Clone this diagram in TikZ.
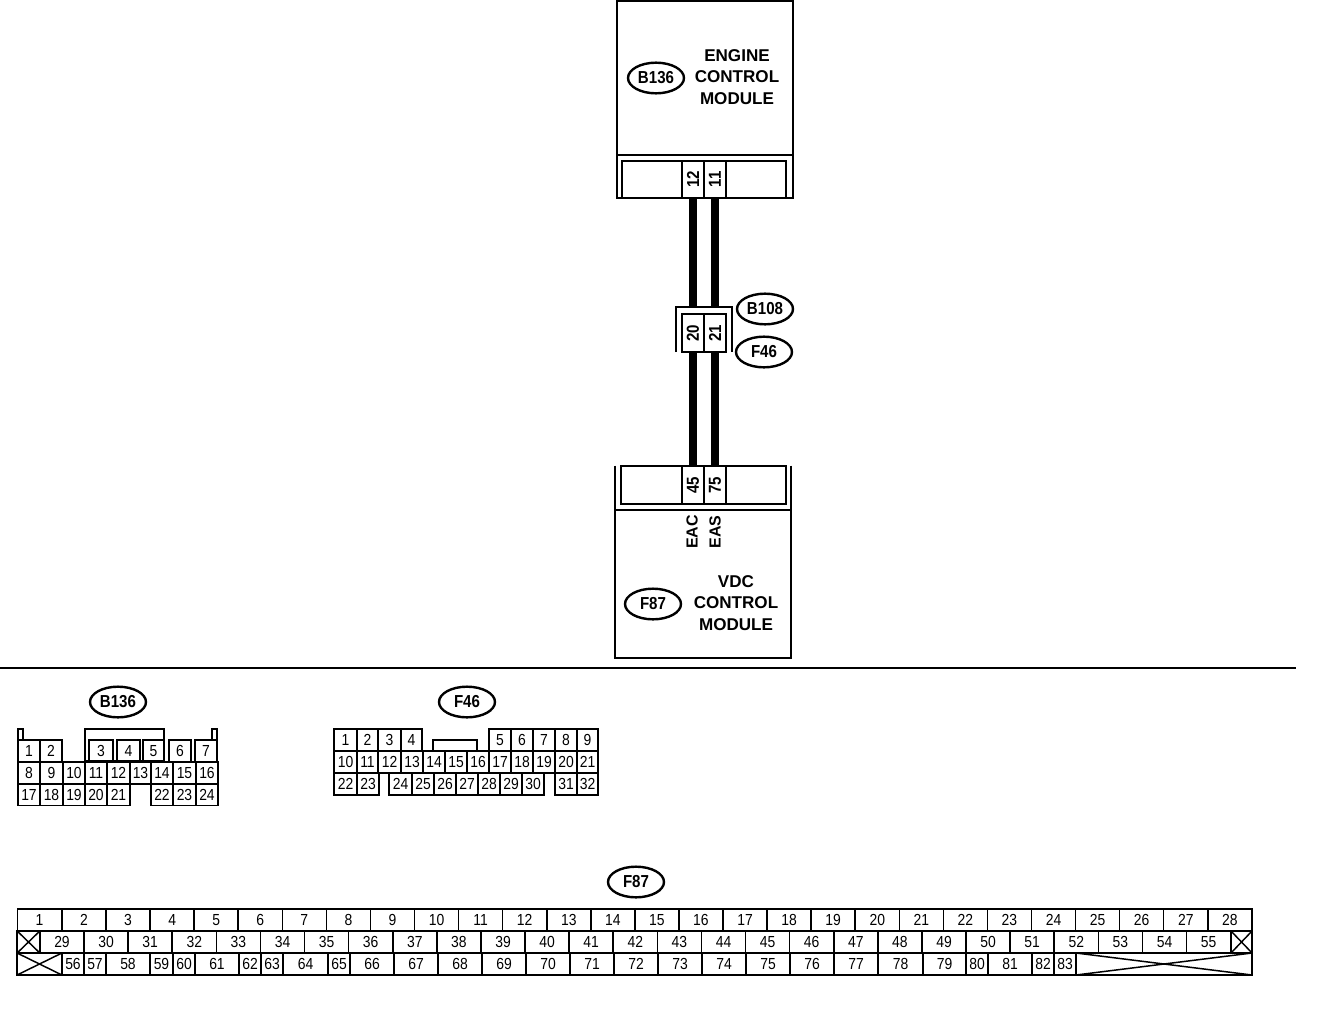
\documentclass[tikz,border=0pt]{standalone}
\usepackage{fontspec}
\setmainfont{Liberation Sans}
\newfontfamily\narrowfont[FakeStretch=0.87]{Liberation Sans}
\usetikzlibrary{positioning}
\usetikzlibrary{shapes.geometric}
\tikzset{
  hbox/.style={draw,line width=1.8pt,inner sep=0pt,outer sep=0pt,fill=white},
  pinv/.style={draw,line width=1.5pt,inner sep=0pt,outer sep=0pt,fill=white,minimum width=16.5pt,font=\narrowfont\fontsize{13}{14}\selectfont\bfseries},
  wire/.style={line width=6.5pt},
  tagoval/.style={draw,ellipse,line width=1.8pt,minimum width=42pt,minimum height=23pt,inner sep=0pt,font=\narrowfont\fontsize{13}{14}\selectfont\bfseries},
  modtext/.style={align=center,inner sep=0pt,font=\fontsize{12.8}{16}\selectfont\bfseries},
  cell/.style={draw,line width=1.1pt,inner sep=0pt,outer sep=0pt,minimum height=16.5pt,font=\narrowfont\fontsize{12}{13}\selectfont},
  bigcell/.style={cell,minimum width=33pt},
}
\begin{document}
\begin{tikzpicture}[x=0.75pt,y=-0.75pt]
    \useasboundingbox (0,0) rectangle (1328,1018);
    % engine control module
    \node [hbox,minimum width=132pt,minimum height=115.5pt] (ecm) at (705,78) {};
    \node [hbox,minimum width=132pt,minimum height=32pt] (ecmplug) at (705,176.5) {};
    \node [hbox,line width=1.5pt,minimum width=123.5pt,minimum height=27.5pt] (ecmin) at (704,179.5) {};
    \node [tagoval] (ecmtag) at (656,78) {B136};
    \node [modtext] (ecmtext) at (737,77) {ENGINE\\CONTROL\\MODULE};
    \node [pinv,minimum height=27.5pt] (p12) at (693,179.5) {\rotatebox{90}{12}};
    \node [pinv,minimum height=27.5pt,right=0pt of p12] (p11) {\rotatebox{90}{11}};
    % joint connector
    \node [inner sep=0pt,minimum width=42pt,minimum height=33.5pt] (joint) at (704,329.5) {};
    \draw [line width=1.8pt] (joint.south west) -- (joint.north west) -- (joint.north east) -- (joint.south east);
    \node [pinv,minimum height=28.5pt] (p20) at (693,333) {\rotatebox{90}{20}};
    \node [pinv,minimum height=28.5pt,right=0pt of p20] (p21) {\rotatebox{90}{21}};
    \node [tagoval] (jta) at (765,309) {B108};
    \node [tagoval] (jtb) at (764,352) {F46};
    % vdc control module
    \node [hbox,minimum width=132pt,minimum height=111pt] (vdc) at (703,584) {};
    \node [inner sep=0pt,minimum width=132pt,minimum height=33pt] (vdcplug) at (703,488) {};
    \draw [line width=1.8pt] (vdcplug.north west) -- (vdcplug.south west);
    \draw [line width=1.8pt] (vdcplug.north east) -- (vdcplug.south east);
    \node [hbox,line width=1.5pt,minimum width=123.5pt,minimum height=28.5pt] (vdcin) at (703.5,485) {};
    \node [pinv,minimum height=28.5pt] (p45) at (693,485) {\rotatebox{90}{45}};
    \node [pinv,minimum height=28.5pt,right=0pt of p45] (p75) {\rotatebox{90}{75}};
    \node [modtext,rotate=90,font=\fontsize{12}{13}\selectfont\bfseries] (eac) at (692,532) {EAC};
    \node [modtext,rotate=90,font=\fontsize{12}{13}\selectfont\bfseries] (eas) at (715,532) {EAS};
    \node [tagoval] (vdctag) at (653,604) {F87};
    \node [modtext] (vdctext) at (736,603) {VDC\\CONTROL\\MODULE};
    % wires
    \draw [wire,shorten >=5.2pt] (p12.south) -- (p20.north);
    \draw [wire,shorten >=5.2pt] (p11.south) -- (p21.north);
    \draw [wire] (p20.south) -- (p45.north);
    \draw [wire] (p21.south) -- (p75.north);
    % rule
    \coordinate (rulea) at (0,668);
    \coordinate (ruleb) at (1296,668);
    \draw [line width=1.7pt] (rulea) -- (ruleb);
    % connector B136
    \node [tagoval] (bhead) at (118,702) {B136};
    \node [cell,minimum width=59.2pt,minimum height=24pt] (bcover) at (124.5,745) {};
    \node [cell,minimum width=3.8pt,minimum height=8.5pt] (btl) at (20.5,734.5) {};
    \node [cell,minimum width=3.8pt,minimum height=8.5pt] (btr) at (214.5,734.5) {};
    \foreach \n/\l/\r in {1/18/40,2/40/62,3/89/113,4/117/140,5/143/164,6/169/191,7/195/217}
        \node [cell,minimum width={(\r-\l)*0.75pt}] (ba\n) at ({(\l+\r)/2},751) {\n};
    \foreach \n/\l/\r in {8/18/40,9/40/63,10/63/85,11/85/107,12/107/130,13/130/151,14/151/173,15/173/196,16/196/218}
        \node [cell,minimum width={(\r-\l)*0.75pt}] (ba\n) at ({(\l+\r)/2},773) {\n};
    \foreach \n/\l/\r in {17/18/40,18/40/63,19/63/85,20/85/107,21/107/130,22/151/173,23/173/196,24/196/218}
        \node [cell,minimum width={(\r-\l)*0.75pt}] (ba\n) at ({(\l+\r)/2},794.5) {\n};
    % connector F46
    \node [tagoval] (fhead) at (467,702) {F46};
    \node [cell,minimum width=33pt,minimum height=8.5pt] (fnotch) at (455,745.5) {};
    \foreach \n/\l/\r in {1/334/357,2/357/378,3/378/401,4/401/422,5/489/511,6/511/533,7/533/555,8/555/577,9/577/598}
        \node [cell,minimum width={(\r-\l)*0.75pt}] (fa\n) at ({(\l+\r)/2},740) {\n};
    \foreach \n/\l/\r in {10/334/357,11/357/378,12/378/401,13/401/423,14/423/445,15/445/467,16/467/489,17/489/511,18/511/533,19/533/555,20/555/577,21/577/598}
        \node [cell,minimum width={(\r-\l)*0.75pt}] (fa\n) at ({(\l+\r)/2},762) {\n};
    \foreach \n/\l/\r in {22/334/357,23/357/379,24/389/412,25/412/434,26/434/456,27/456/478,28/478/500,29/500/522,30/522/544,31/555/577,32/577/598}
        \node [cell,minimum width={(\r-\l)*0.75pt}] (fa\n) at ({(\l+\r)/2},784) {\n};
    % connector F87
    \node [tagoval] (vhead) at (636,882) {F87};
    \node [bigcell] (va1) at (39.5,920) {1};
    \foreach \n [evaluate=\n as \mx using {84+44.07*(\n-2)}] in {2,...,28}
        \node [bigcell] (va\n) at (\mx,920) {\n};
    \node [cell,minimum width=17pt] (vxa) at (28.5,942) {};
    \draw [line width=1.1pt] (vxa.north west) -- (vxa.south east);
    \draw [line width=1.1pt] (vxa.north east) -- (vxa.south west);
    \foreach \n [evaluate=\n as \mx using {62+44.1*(\n-29)}] in {29,...,55}
        \node [bigcell] (va\n) at (\mx,942) {\n};
    \node [cell,minimum width=15.8pt] (vxb) at (1241.5,942) {};
    \draw [line width=1.1pt] (vxb.north west) -- (vxb.south east);
    \draw [line width=1.1pt] (vxb.north east) -- (vxb.south west);
    \node [cell,minimum width=33.7pt] (vxc) at (39.5,964) {};
    \draw [line width=1.1pt] (vxc.north west) -- (vxc.south east);
    \draw [line width=1.1pt] (vxc.north east) -- (vxc.south west);
    \foreach \n/\l/\r in {56/62/84,57/84/106,58/106/150,59/150/173,60/173/195,61/195/239,62/239/261,63/261/283,64/283/328,65/328/350,66/350/394,67/394/438,68/438/482,69/482/526,70/526/570,71/570/614,72/614/658,73/658/702,74/702/746,75/746/790,76/790/834,77/834/878,78/878/923,79/923/966,80/966/988,81/988/1032,82/1032/1054,83/1054/1076}
        \node [cell,minimum width={(\r-\l)*0.75pt}] (va\n) at ({(\l+\r)/2},964) {\n};
    \node [cell,minimum width=132pt] (vxd) at (1164,964) {};
    \draw [line width=1.1pt] (vxd.north west) -- (vxd.south east);
    \draw [line width=1.1pt] (vxd.north east) -- (vxd.south west);
\end{tikzpicture}
\end{document}
